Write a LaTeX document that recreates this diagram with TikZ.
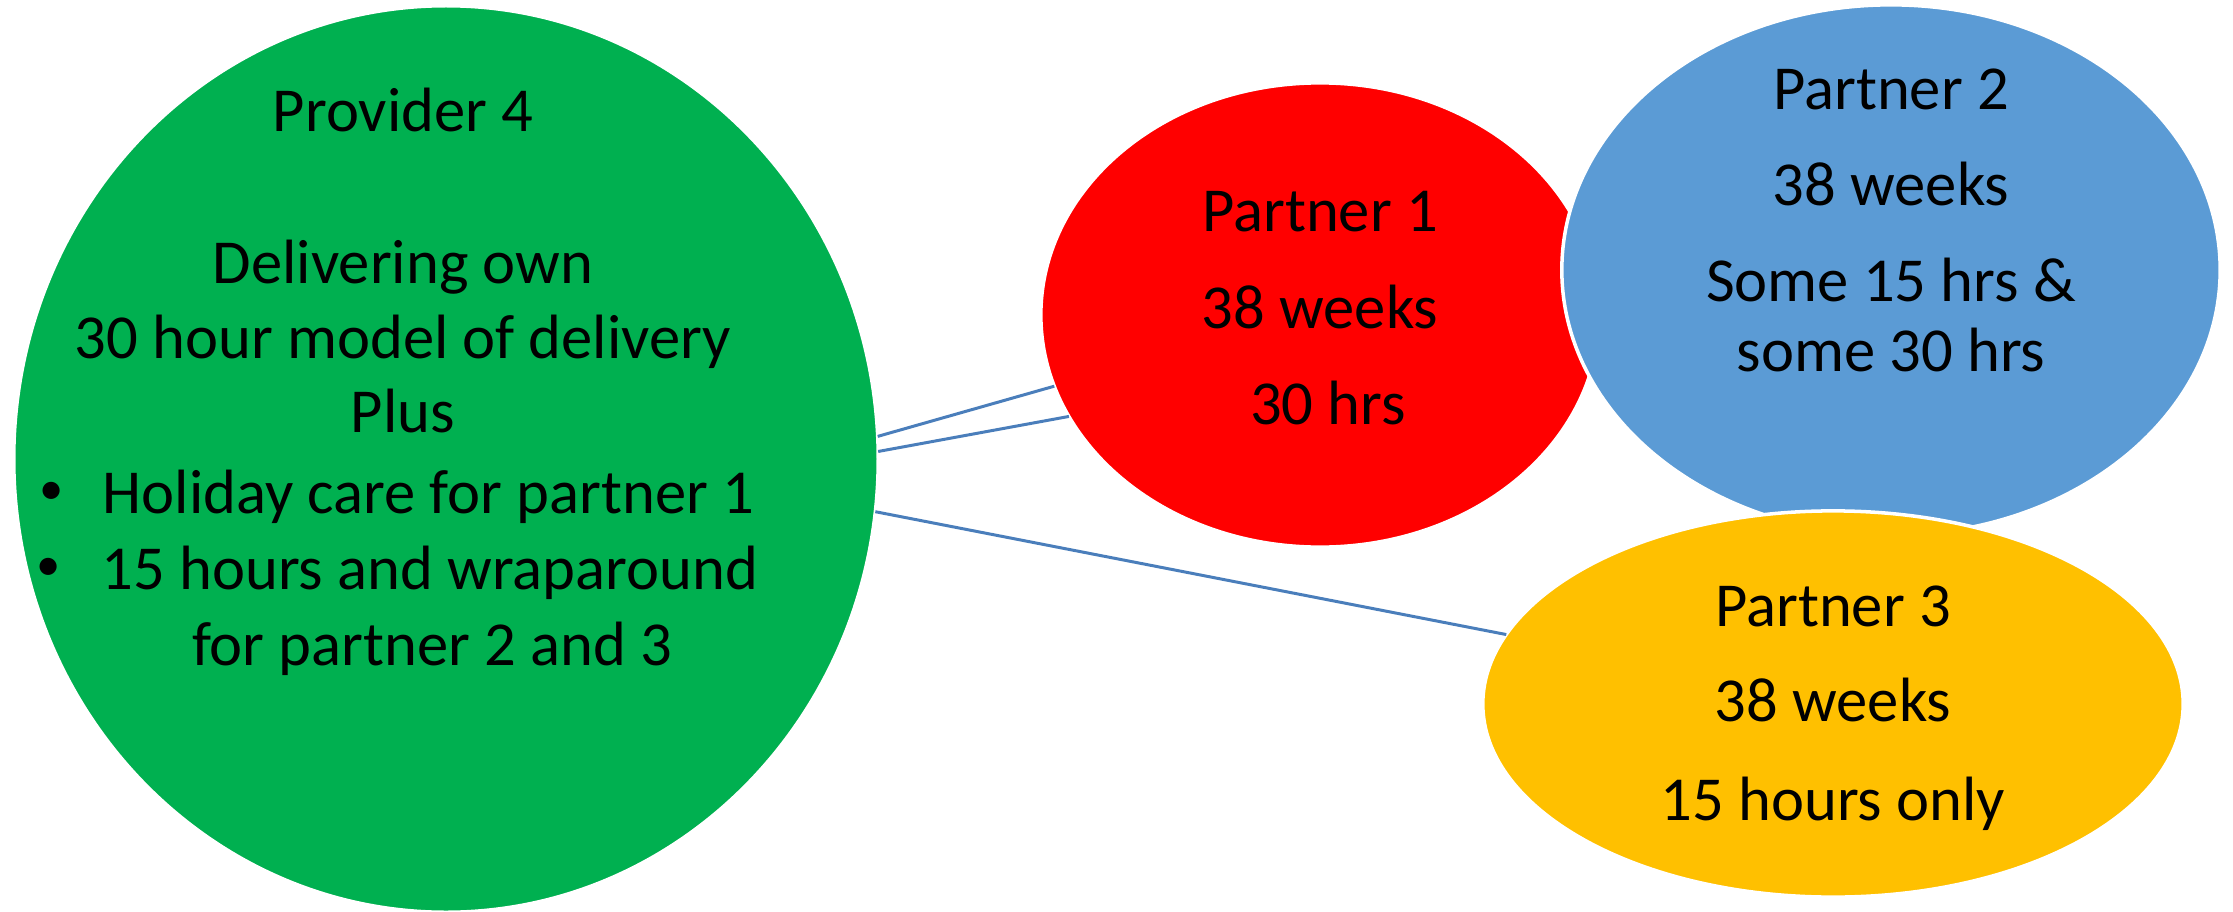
\documentclass[tikz,border=0pt]{standalone}
\usepackage{fontspec}
\setmainfont{Carlito}
\usetikzlibrary{shapes.geometric}
\definecolor{cgreen}{RGB}{0,176,80}
\definecolor{cred}{RGB}{255,0,0}
\definecolor{cblue}{RGB}{91,155,213}
\definecolor{cyellow}{RGB}{255,192,0}
\definecolor{cline}{RGB}{74,126,187}
\tikzset{
  bubble/.style={ellipse, draw=white, line width=1pt, inner sep=0pt, outer sep=0pt},
  txt/.style={inner sep=0pt, anchor=base, font=\fontsize{17.8}{21}\selectfont, text=black},
  bul/.style={inner sep=0pt, anchor=center, font=\fontsize{13.8}{16}\selectfont, text=black},
  link/.style={draw=cline, line width=0.85pt}
}
\begin{document}
\begin{tikzpicture}[x=0.01cm, y=-0.01cm]
\useasboundingbox (0,0) rectangle (2233,912);
% ellipses
\node[bubble, fill=cgreen, minimum width=8.64cm, minimum height=9.06cm] (green) at (446,459) {};
\node[bubble, fill=cred, minimum width=5.58cm, minimum height=4.64cm] (red) at (1320,315) {};
\node[bubble, fill=cblue, minimum width=6.58cm, minimum height=5.30cm] (blue) at (1891,270) {};
\node[bubble, fill=cyellow, minimum width=7.00cm, minimum height=3.86cm] (yellow) at (1833,704) {};
% connectors
\draw[link] (green.3.2) -- (red.195.2);
\draw[link] (green.1.2) -- (red.202.2);
\draw[link] (green.-7.25) -- (yellow.168.6);
% green text
\node[txt] (g1) at (403,131) {Provider 4};
\node[txt] (g2) at (403,283) {Delivering own};
\node[txt] (g3) at (403,358) {30 hour model of delivery};
\node[txt] (g4) at (403,432) {Plus};
\node[bul] (g5b) at (52,493) {•};
\node[txt, anchor=base west] (g5) at (102,513) {Holiday care for partner 1};
\node[bul] (g6b) at (49,569) {•};
\node[txt, anchor=base west] (g6) at (101,589) {15 hours and wraparound};
\node[txt] (g7) at (432,665) {for partner 2 and 3};
% red text
\node[txt] (r1) at (1320,231) {Partner 1};
\node[txt] (r2) at (1320,328) {38 weeks};
\node[txt] (r3) at (1328,424) {30 hrs};
% blue text
\node[txt] (b1) at (1891,110) {Partner 2};
\node[txt] (b2) at (1891,205) {38 weeks};
\node[txt] (b3) at (1891,301) {Some 15 hrs \&};
\node[txt] (b4) at (1891,371) {some 30 hrs};
% yellow text
\node[txt] (y1) at (1833,626) {Partner 3};
\node[txt] (y2) at (1833,721) {38 weeks};
\node[txt] (y3) at (1833,820) {15 hours only};
\end{tikzpicture}
\end{document}
